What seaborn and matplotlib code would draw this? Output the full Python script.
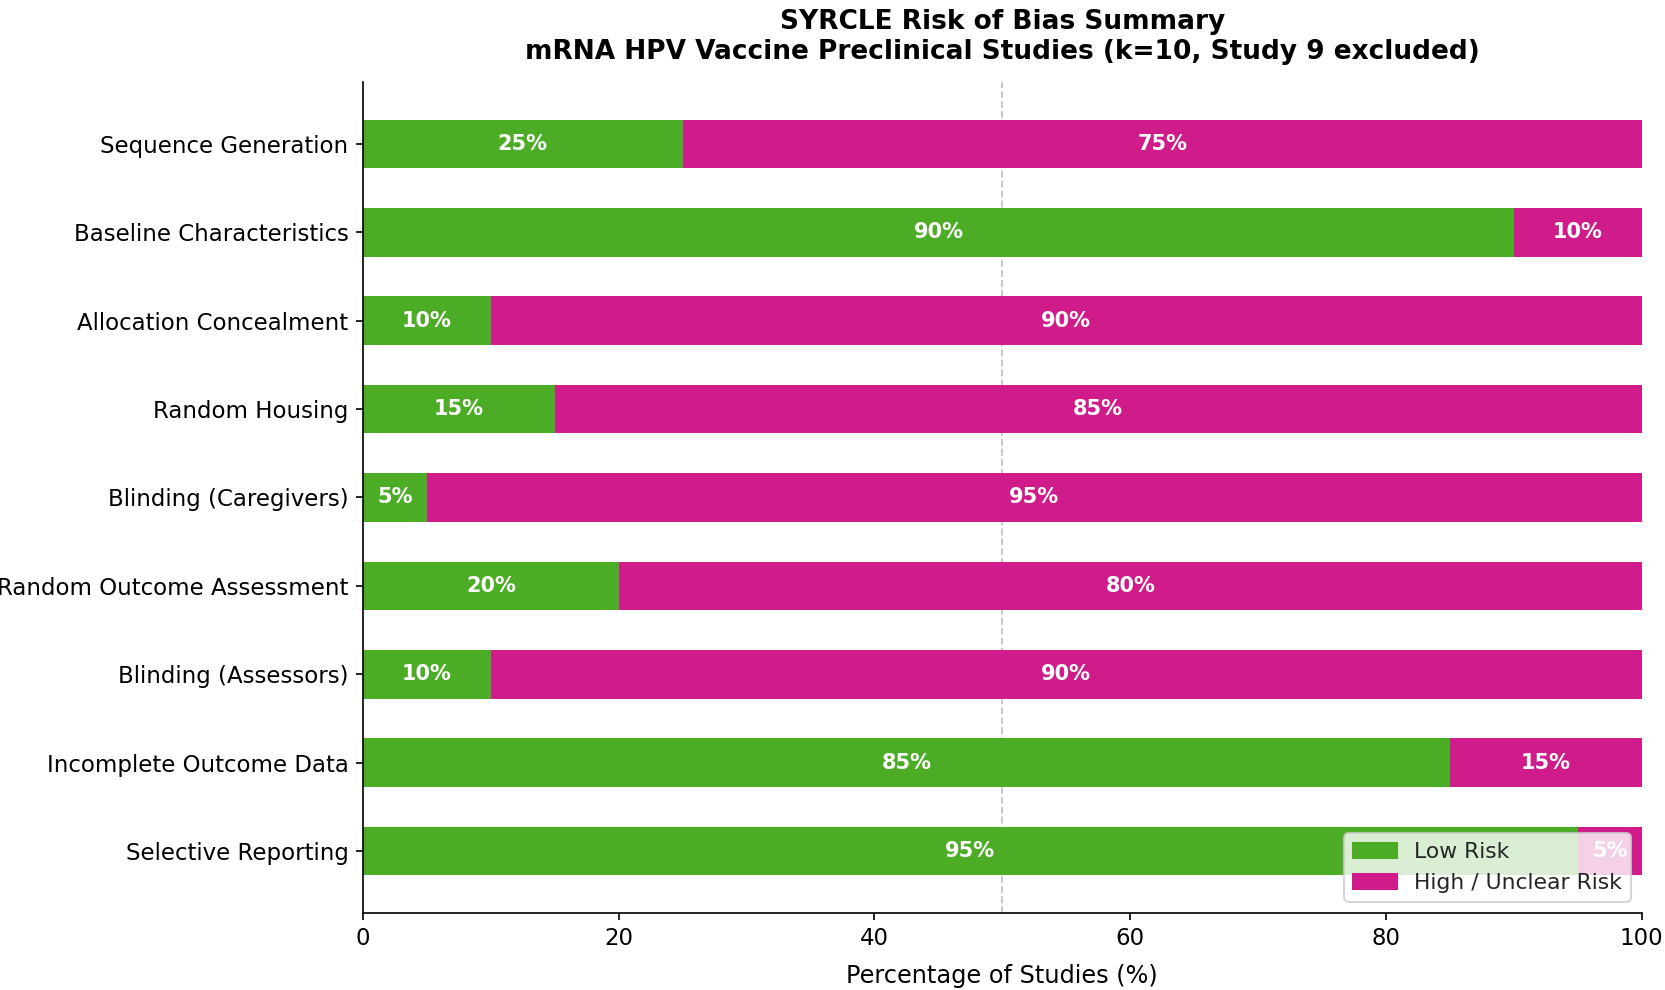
import pandas as pd
import matplotlib
matplotlib.use('Agg')
import matplotlib.pyplot as plt
import seaborn as sns
from matplotlib.patches import Patch

domains = ['Sequence Generation', 'Baseline Characteristics', 'Allocation Concealment',
           'Random Housing', 'Blinding (Caregivers)', 'Random Outcome Assessment',
           'Blinding (Assessors)', 'Incomplete Outcome Data', 'Selective Reporting']
low_risk = [25, 90, 10, 15, 5, 20, 10, 85, 95]
high_risk = [75, 10, 90, 85, 95, 80, 90, 15, 5]

green = '#4dac26'
magenta = '#d01c8b'

df = pd.DataFrame({'domain': domains, 'low': low_risk, 'high': high_risk})
df['total'] = df['low'] + df['high']

sns.set_style('ticks')
plt.rcParams['font.family'] = ['DejaVu Sans']

fig, ax = plt.subplots(figsize=(11.1, 6.6), dpi=150)

# stacked bars: full length in magenta, low risk in green on top
sns.barplot(data=df, y='domain', x='total', color=magenta, saturation=1,
            width=0.55, orient='h', ax=ax, linewidth=0)
sns.barplot(data=df, y='domain', x='low', color=green, saturation=1,
            width=0.55, orient='h', ax=ax, linewidth=0)

for i, row in df.iterrows():
    ax.text(row['low'] / 2, i, f"{row['low']}%", ha='center', va='center',
            color='white', fontweight='bold', fontsize=10)
    ax.text(row['low'] + row['high'] / 2, i, f"{row['high']}%", ha='center', va='center',
            color='white', fontweight='bold', fontsize=10)

ax.axvline(50, color='#a0a0a0', alpha=0.6, linestyle='--', linewidth=0.9, zorder=0.5)

ax.set_xlim(0, 100)
ax.set_ylim(len(domains) - 1 + 0.7, -0.7)
ax.set_xlabel('Percentage of Studies (%)', fontsize=11.5, labelpad=6.5)
ax.set_ylabel('')
ax.tick_params(axis='both', labelsize=11, colors='black')
ax.set_title('SYRCLE Risk of Bias Summary\nmRNA HPV Vaccine Preclinical Studies (k=10, Study 9 excluded)',
             fontsize=12.7, fontweight='bold', pad=11, color='black')
ax.xaxis.label.set_color('black')
for s in ax.spines.values():
    s.set_color('black')
sns.despine(ax=ax)

handles = [Patch(color=green, label='Low Risk'), Patch(color=magenta, label='High / Unclear Risk')]
ax.legend(handles=handles, loc='lower right', fontsize=10.5)

plt.subplots_adjust(left=0.218, right=0.986, top=0.917, bottom=0.078)
plt.savefig('out.png')
plt.close()
